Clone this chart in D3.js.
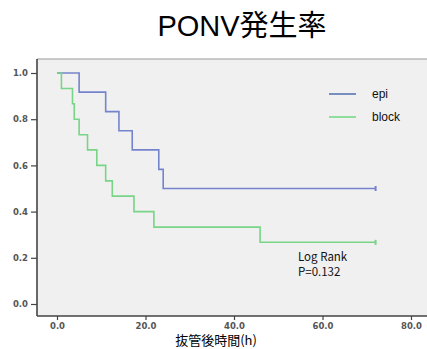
<!DOCTYPE html>
<html>
<head>
  <meta charset="utf-8">
  <script src="https://d3js.org/d3.v7.min.js"></script>
  <style>
    html, body { margin:0; padding:0; background:#fff; overflow:hidden }
    svg { display:block }
  </style>
</head>
<body>
<div id="chart"></div>
<script>
  // Kaplan-Meier steps
  var epiTimes  = [0, 5.0, 11.0, 14.0, 17.0, 23.0, 24.0, 72.0];
  var epiValues = [1.0, 0.917, 0.833, 0.75, 0.667, 0.583, 0.5, 0.5];
  var blockTimes  = [0, 1.0, 3.5, 3.9, 5.0, 6.9, 9.0, 11.0, 12.5, 17.4, 21.9, 45.9, 72.0];
  var blockValues = [1.0, 0.933, 0.867, 0.8, 0.733, 0.667, 0.6, 0.533, 0.467, 0.4, 0.333, 0.267, 0.267];
  var xTicks = [0, 20, 40, 60, 80];
  var yTicks = [0, 0.2, 0.4, 0.6, 0.8, 1.0];
  var seriesNames = ["epi", "block"];

  var W = 427, H = 349;

  var svg = d3.select("#chart").append("svg")
    .attr("width", W).attr("height", H);

  var x = d3.scaleLinear().domain([0, 80]).range([57, 411]);
  var y = d3.scaleLinear().domain([0, 1]).range([304, 73]);

  // plot background + frame
  svg.append("rect")
    .attr("x", 37).attr("y", 59).attr("width", W - 37).attr("height", 316 - 59)
    .attr("fill", "#f0f0f0");
  svg.append("line").attr("x1", 37).attr("x2", W).attr("y1", 59).attr("y2", 59)
    .attr("stroke", "#999").attr("stroke-width", 1);

  // title
  svg.append("text")
    .attr("x", 242).attr("y", 36)
    .attr("text-anchor", "middle")
    .attr("font-family", "'Liberation Sans', 'Noto Sans CJK JP', sans-serif")
    .attr("font-size", 29)
    .attr("fill", "#000")
    .text("PONV発生率");

  // axes
  var yAxis = d3.axisLeft(y).tickValues(yTicks).tickFormat(d3.format(".1f")).tickSize(6).tickPadding(3);
  var gy = svg.append("g").attr("transform", "translate(37,0)").call(yAxis);
  gy.select(".domain").attr("d", "M0,59V316");

  var xAxis = d3.axisBottom(x).tickValues(xTicks).tickFormat(d3.format(".1f")).tickSize(4).tickPadding(3);
  var gx = svg.append("g").attr("transform", "translate(0,316)").call(xAxis);
  gx.select(".domain").attr("d", "M37,0H" + W);

  [gx, gy].forEach(function(g) {
    g.selectAll(".domain").attr("stroke", "#444").attr("stroke-width", 1.6).attr("fill", "none");
    g.selectAll(".tick line").attr("stroke", "#444").attr("stroke-width", 1.2);
    g.selectAll(".tick text")
      .attr("font-family", "'DejaVu Sans', sans-serif")
      .attr("font-size", 8.5)
      .attr("font-weight", "bold")
      .attr("fill", "#555");
  });

  svg.append("text")
    .attr("x", 216).attr("y", 345)
    .attr("text-anchor", "middle")
    .attr("font-family", "'Noto Sans CJK JP', sans-serif")
    .attr("font-size", 13)
    .attr("fill", "#000")
    .text("抜管後時間(h)");

  // step curves
  function steps(times, values) {
    return times.map(function(t, i) { return [t, values[i]]; });
  }
  var line = d3.line()
    .x(function(d) { return x(d[0]); })
    .y(function(d) { return y(d[1]); })
    .curve(d3.curveStepAfter);

  var series = [
    { name: seriesNames[0], pts: steps(epiTimes, epiValues), color: "#7484cc", legend: "#3558a8" },
    { name: seriesNames[1], pts: steps(blockTimes, blockValues), color: "#78d486", legend: "#5cd46c" }
  ];

  series.forEach(function(s) {
    svg.append("path")
      .attr("d", line(s.pts))
      .attr("fill", "none")
      .attr("stroke", s.color)
      .attr("stroke-width", 1.6);
    var last = s.pts[s.pts.length - 1];
    svg.append("line")
      .attr("x1", x(last[0])).attr("x2", x(last[0]))
      .attr("y1", y(last[1]) - 2.5).attr("y2", y(last[1]) + 2.5)
      .attr("stroke", s.color).attr("stroke-width", 2);
  });

  // legend
  var leg = svg.append("g");
  series.forEach(function(s, i) {
    var yy = 94 + i * 23;
    leg.append("line")
      .attr("x1", 329).attr("x2", 356).attr("y1", yy).attr("y2", yy)
      .attr("stroke", s.legend).attr("stroke-width", 1.3);
    leg.append("text")
      .attr("x", 372).attr("y", yy + 4)
      .attr("font-family", "'Liberation Sans', sans-serif")
      .attr("font-size", 12)
      .attr("fill", "#111")
      .text(s.name);
  });

  // log rank annotation
  var ann = svg.append("text")
    .attr("font-family", "'Noto Sans CJK JP', sans-serif")
    .attr("font-size", 11.5)
    .attr("fill", "#111");
  ann.append("tspan").attr("x", 298).attr("y", 261).text("Log Rank");
  ann.append("tspan").attr("x", 298).attr("y", 276).text("P=0.132");
</script>
</body>
</html>
